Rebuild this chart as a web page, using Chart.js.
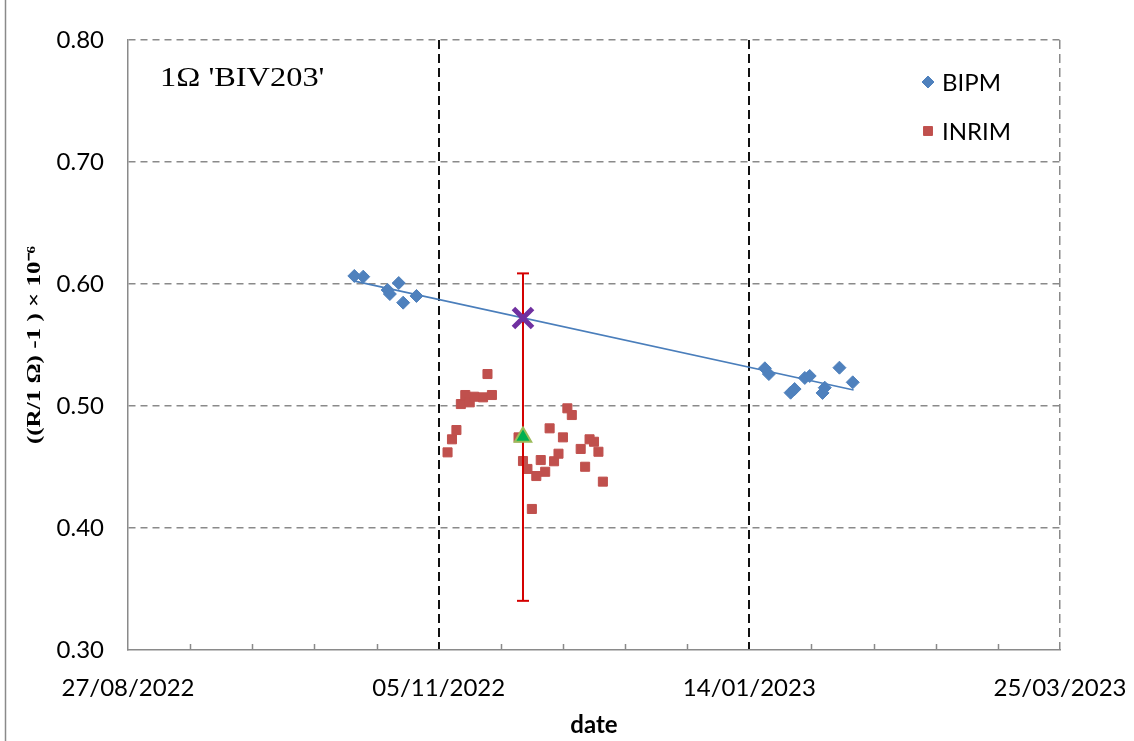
<!DOCTYPE html>
<html><head><meta charset="utf-8">
<script src="https://cdn.jsdelivr.net/npm/chart.js@4/dist/chart.umd.min.js"></script>
<style>html,body{margin:0;padding:0;background:#fff}#wrap{width:1134px;height:741px;position:relative}</style>
</head><body><div id="wrap"><canvas id="c" width="1134" height="741"></canvas></div>
<script>
// ---- data (x values are Excel serial dates) ----
const xTickValues = [44800, 44870, 44940, 45010];
const xTickLabels = ['27/08/2022', '05/11/2022', '14/01/2023', '25/03/2023'];
const xMinorStep = 14;
const yTickValues = [0.30, 0.40, 0.50, 0.60, 0.70, 0.80];

const bipmX = [44851, 44853, 44858.5, 44859, 44861, 44862, 44865,
               44943.5, 44944.4, 44949.3, 44950.2, 44952.5, 44953.6, 44956.5, 44957, 44960.3, 44963.3];
const bipmY = [0.6066, 0.6060, 0.5951, 0.5918, 0.6008, 0.5847, 0.5902,
               0.5309, 0.5262, 0.5109, 0.5139, 0.5230, 0.5246, 0.5107, 0.5150, 0.5314, 0.5194];

const inrimX = [44872, 44873, 44874, 44875, 44876, 44877, 44878, 44880, 44881, 44882,
                44888, 44889, 44890, 44891, 44892, 44893, 44894, 44895, 44896, 44897, 44898, 44899, 44900,
                44902, 44903, 44904, 44905, 44906, 44907];
const inrimY = [0.4620, 0.4727, 0.4803, 0.5016, 0.5090, 0.5030, 0.5076, 0.5071, 0.5262, 0.5090,
                0.4743, 0.4549, 0.4484, 0.4156, 0.4426, 0.4557, 0.4461, 0.4817, 0.4547, 0.4609, 0.4743, 0.4981, 0.4926,
                0.4648, 0.4502, 0.4727, 0.4707, 0.4625, 0.4380];

const fitX = [44850.8, 44963.5];
const fitY = [0.6025, 0.5131];

const meanX = [44889];
const bipmAtMeanY = [0.5721];
const inrimMeanY = [0.4745];
const inrimMeanU = [0.1342];

const seriesLabels = ['BIPM', 'INRIM'];
const chartTitle = "1\u03A9 'BIV203'";
const yTitle = '((R/1 \u03A9) -1 ) \u00D7 10\u207B\u2076';
const xTitle = 'date';

// ---- build ----
const pts = (xs, ys) => xs.map((x, i) => ({x: x, y: ys[i]}));
const errPts = [
  {x: meanX[0], y: inrimMeanY[0] + inrimMeanU[0]},
  {x: meanX[0], y: inrimMeanY[0] - inrimMeanU[0]}
];

const BLUE = '#4F81BD', RED = '#C0504D';

const framePlugin = {
  id: 'frame',
  beforeDraw(chart) {
    const ctx = chart.ctx;
    ctx.save();
    ctx.fillStyle = '#fff';
    ctx.fillRect(0, 0, chart.width, chart.height);
    ctx.strokeStyle = '#8a8a8a';
    ctx.lineWidth = 1.5;
    ctx.beginPath();
    ctx.moveTo(5.5, 0); ctx.lineTo(5.5, chart.height);
    ctx.stroke();
    ctx.restore();
  },
  beforeDatasetsDraw(chart) {
    const ctx = chart.ctx, xs = chart.scales.x, bottom = chart.chartArea.bottom;
    ctx.save();
    ctx.strokeStyle = '#8a8a8a';
    ctx.lineWidth = 1.5;
    for (let v = xs.min + xMinorStep; v < xs.max; v += xMinorStep) {
      if (xTickValues.includes(v)) continue;
      const px = Math.round(xs.getPixelForValue(v)) + 0.5;
      ctx.beginPath(); ctx.moveTo(px, bottom); ctx.lineTo(px, bottom - 6); ctx.stroke();
    }
    ctx.restore();
  },
  afterDraw(chart) {
    const ctx = chart.ctx;
    ctx.save();
    ctx.fillStyle = '#000';
    // chart title (inside plot)
    ctx.save();
    ctx.font = '27px "Liberation Serif"';
    ctx.textBaseline = 'alphabetic';
    ctx.translate(160, 86);
    ctx.scale(1.2, 1);
    ctx.fillText(chartTitle, 0, 0);
    ctx.restore();
    // y title
    ctx.save();
    ctx.font = 'bold 19px "Liberation Serif"';
    ctx.textAlign = 'center';
    ctx.textBaseline = 'middle';
    ctx.translate(35, (chart.chartArea.top + chart.chartArea.bottom) / 2);
    ctx.rotate(-Math.PI / 2);
    ctx.scale(1.32, 1);
    ctx.fillText(yTitle, 0, 0);
    ctx.restore();
    // legend
    const items = [
      {label: seriesLabels[0], style: 'rectRot', color: BLUE, y: 82, r: 6},
      {label: seriesLabels[1], style: 'rect', color: RED, y: 131, r: 6.3}
    ];
    ctx.font = '24px Lato';
    ctx.textBaseline = 'middle';
    items.forEach(it => {
      ctx.fillStyle = it.color; ctx.strokeStyle = it.color; ctx.lineWidth = 1;
      ctx.beginPath();
      if (it.style === 'rectRot') {
        ctx.moveTo(928 - it.r, it.y); ctx.lineTo(928, it.y - it.r); ctx.lineTo(928 + it.r, it.y); ctx.lineTo(928, it.y + it.r);
      } else {
        const h = it.r * Math.SQRT1_2; ctx.rect(928 - h, it.y - h, 2 * h, 2 * h);
      }
      ctx.closePath(); ctx.fill(); ctx.stroke();
      ctx.fillStyle = '#000';
      ctx.fillText(it.label, 942, it.y + 1);
    });
    ctx.restore();
  }
};

new Chart(document.getElementById('c'), {
  type: 'scatter',
  data: {
    datasets: [
      {label: 'INRIM mean', data: pts(meanX, inrimMeanY), pointStyle: 'triangle', pointRadius: 9.5,
       backgroundColor: '#00B050', borderColor: '#9BBB59', borderWidth: 2},
      {label: 'BIPM at mean date', data: pts(meanX, bipmAtMeanY), pointStyle: 'crossRot', pointRadius: 13.5,
       backgroundColor: '#7030A0', borderColor: '#7030A0', borderWidth: 5},
      {label: 'uncertainty', type: 'line', data: errPts, showLine: true, borderColor: '#D40000', borderWidth: 2,
       pointStyle: 'line', pointRadius: 6, pointBorderWidth: 2, pointBorderColor: '#D40000', fill: false},
      {label: seriesLabels[1], data: pts(inrimX, inrimY), pointStyle: 'rect', pointRadius: 6.4,
       backgroundColor: RED, borderColor: RED, borderWidth: 1},
      {label: seriesLabels[0], data: pts(bipmX, bipmY), pointStyle: 'rectRot', pointRadius: 6.5,
       backgroundColor: BLUE, borderColor: BLUE, borderWidth: 1},
      {label: 'BIPM fit', type: 'line', data: pts(fitX, fitY), showLine: true, pointRadius: 0,
       borderColor: '#4A7EBB', borderWidth: 1.75, fill: false}
    ]
  },
  options: {
    responsive: false,
    devicePixelRatio: 1,
    animation: false,
    layout: {padding: {left: 0, top: 40, right: 74, bottom: 0}},
    plugins: {legend: {display: false}, tooltip: {enabled: false}},
    scales: {
      x: {
        type: 'linear', min: xTickValues[0], max: xTickValues[xTickValues.length - 1],
        afterBuildTicks: s => { s.ticks = xTickValues.map(v => ({value: v})); },
        afterFit: s => { s.height = 91; s.paddingLeft = 0; s.paddingRight = 0; },
        ticks: {autoSkip: false, maxRotation: 0, padding: 24, color: '#000',
                font: {family: 'Lato', size: 24},
                callback: v => { const i = xTickValues.indexOf(v); return i >= 0 ? xTickLabels[i] : ''; }},
        grid: {drawTicks: false,
               lineWidth: c => (c.tick && c.tick.value === xTickValues[xTickValues.length - 1]) ? 1.5 : 2,
               color: c => { const v = c.tick && c.tick.value;
                 if (v === xTickValues[0]) return 'rgba(0,0,0,0)';
                 if (v === xTickValues[xTickValues.length - 1]) return '#8a8a8a';
                 return '#111'; }},
        border: {display: true, color: '#8a8a8a', width: 1.5, dash: [9, 5]},
        title: {display: true, text: xTitle, color: '#000', font: {family: 'Lato', size: 24, weight: 'bold'},
                padding: {top: 0, bottom: 1}}
      },
      y: {
        min: yTickValues[0], max: yTickValues[yTickValues.length - 1],
        afterBuildTicks: s => { s.ticks = yTickValues.map(v => ({value: v})); },
        afterFit: s => { s.width = 128; s.paddingTop = 0; s.paddingBottom = 0; },
        ticks: {padding: 24, color: '#000', font: {family: 'Lato', size: 24}, callback: v => Number(v).toFixed(2)},
        grid: {drawTicks: false, lineWidth: 1.5,
               color: c => { const v = c.tick && c.tick.value;
                 if (Math.abs(v - yTickValues[0]) < 1e-9) return 'rgba(0,0,0,0)';
                 return '#8a8a8a'; }},
        border: {display: true, color: '#8a8a8a', width: 1.5, dash: [7, 5]}
      }
    }
  },
  plugins: [framePlugin]
});
</script>
</body></html>
